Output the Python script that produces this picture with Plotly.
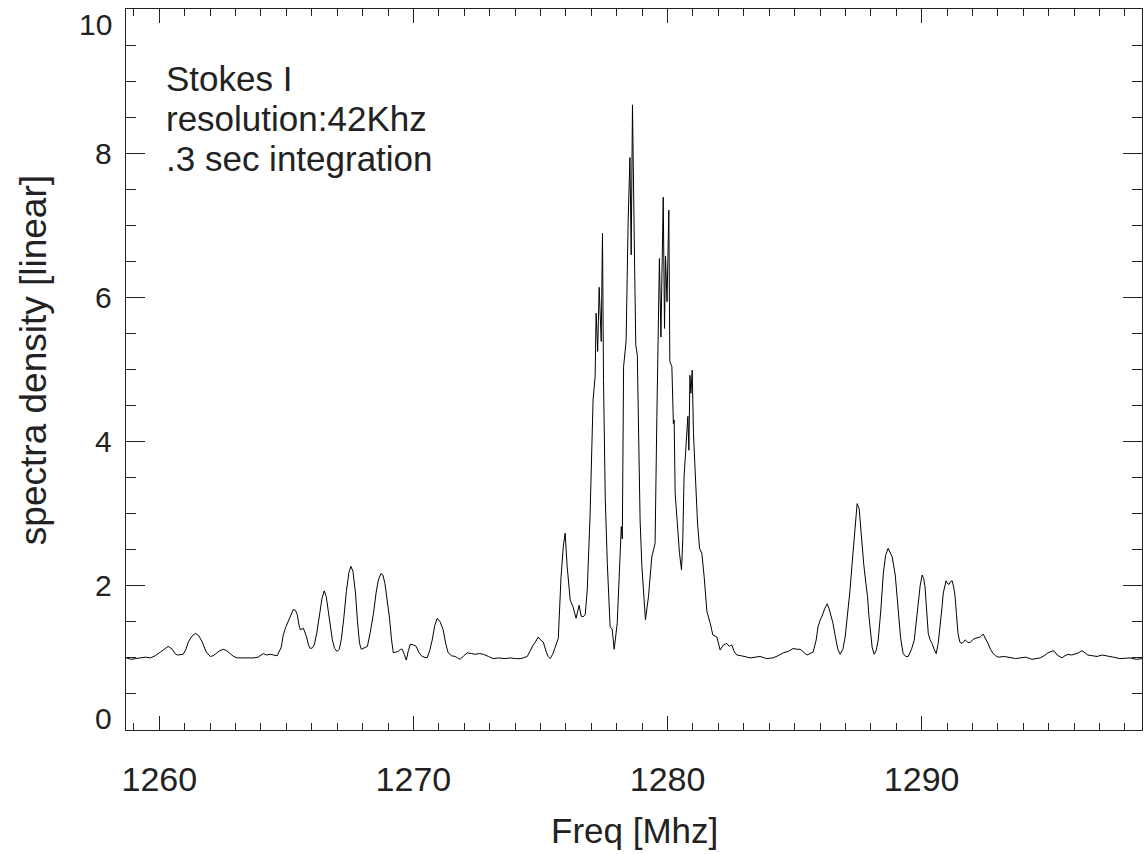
import plotly.graph_objects as go

# spectrum (Stokes I, 42 kHz resolution), (MHz, density)
low_band = [
    (1258.70, 1.00), (1258.90, 0.98), (1259.06, 0.99), (1259.25, 1.00), (1259.45, 1.01),
    (1259.65, 1.00), (1259.84, 1.03), (1260.04, 1.08), (1260.20, 1.12), (1260.35, 1.16),
    (1260.51, 1.12), (1260.62, 1.06), (1260.71, 1.04), (1260.85, 1.05), (1260.94, 1.05),
    (1261.05, 1.12), (1261.14, 1.22), (1261.28, 1.30), (1261.42, 1.34), (1261.55, 1.31),
    (1261.69, 1.22), (1261.85, 1.08), (1262.01, 1.02), (1262.12, 1.03), (1262.24, 1.06),
    (1262.38, 1.10), (1262.52, 1.12), (1262.65, 1.10), (1262.79, 1.06), (1262.92, 1.02),
    (1263.07, 1.00), (1263.30, 1.00), (1263.50, 0.99), (1263.70, 1.00), (1263.89, 1.01),
    (1264.09, 1.06), (1264.22, 1.04), (1264.37, 1.05), (1264.50, 1.04), (1264.64, 1.03),
    (1264.80, 1.15), (1264.88, 1.32), (1264.97, 1.42), (1265.07, 1.50), (1265.17, 1.60),
    (1265.27, 1.67), (1265.36, 1.66), (1265.43, 1.60), (1265.50, 1.45), (1265.55, 1.39),
    (1265.67, 1.41), (1265.79, 1.30), (1265.87, 1.18), (1265.94, 1.13), (1266.03, 1.14),
    (1266.10, 1.18), (1266.20, 1.35), (1266.30, 1.58), (1266.40, 1.82), (1266.49, 1.93),
    (1266.57, 1.85), (1266.65, 1.65), (1266.73, 1.42), (1266.81, 1.25), (1266.90, 1.13),
    (1267.00, 1.09), (1267.08, 1.12), (1267.16, 1.25), (1267.26, 1.55), (1267.36, 1.92),
    (1267.46, 2.18), (1267.54, 2.27), (1267.62, 2.20), (1267.72, 1.90), (1267.80, 1.50),
    (1267.88, 1.20), (1267.95, 1.12), (1268.07, 1.14), (1268.19, 1.16), (1268.30, 1.35),
    (1268.43, 1.62), (1268.53, 1.90), (1268.62, 2.08), (1268.72, 2.17), (1268.80, 2.15),
    (1268.88, 2.03), (1268.97, 1.80), (1269.06, 1.55), (1269.14, 1.25), (1269.21, 1.07),
    (1269.30, 1.08), (1269.41, 1.09), (1269.49, 1.12), (1269.56, 1.12), (1269.64, 1.05),
    (1269.72, 0.97), (1269.80, 1.10), (1269.88, 1.19), (1270.00, 1.18), (1270.11, 1.16),
    (1270.21, 1.08), (1270.31, 1.03), (1270.42, 1.01), (1270.54, 1.00), (1270.64, 1.10),
    (1270.74, 1.25), (1270.84, 1.45), (1270.94, 1.55), (1271.05, 1.50), (1271.17, 1.39),
    (1271.27, 1.20), (1271.37, 1.07), (1271.50, 1.03), (1271.64, 1.02), (1271.74, 1.00),
    (1271.84, 0.98), (1271.98, 1.03), (1272.12, 1.07), (1272.28, 1.06), (1272.43, 1.05),
    (1272.60, 1.06), (1272.75, 1.05), (1272.95, 1.02), (1273.14, 0.99), (1273.35, 1.00),
    (1273.61, 0.99), (1273.80, 1.00), (1274.01, 0.99), (1274.24, 0.99), (1274.36, 1.00),
    (1274.48, 1.02), (1274.60, 1.10), (1274.71, 1.18), (1274.80, 1.22), (1274.91, 1.29),
    (1275.00, 1.25), (1275.11, 1.22), (1275.23, 1.08), (1275.30, 1.02), (1275.38, 0.99),
    (1275.48, 1.05), (1275.58, 1.15), (1275.70, 1.27),
]
core = [
    (1275.81, 2.13), (1275.90, 2.55), (1275.97, 2.73), (1276.05, 2.27), (1276.17, 1.80),
    (1276.28, 1.71), (1276.40, 1.55), (1276.52, 1.73), (1276.60, 1.58), (1276.68, 1.57),
    (1276.76, 1.60), (1276.84, 1.94), (1276.95, 2.96), (1277.07, 4.58), (1277.15, 4.90),
    (1277.19, 5.78), (1277.25, 5.25), (1277.31, 6.14), (1277.39, 5.39), (1277.44, 6.89),
    (1277.48, 4.85), (1277.55, 3.20), (1277.63, 2.31), (1277.74, 1.43), (1277.82, 1.40),
    (1277.90, 1.12), (1278.02, 1.48), (1278.14, 2.59), (1278.18, 2.82), (1278.22, 2.65),
    (1278.27, 5.04), (1278.33, 5.25), (1278.37, 5.40), (1278.45, 7.07), (1278.52, 7.94),
    (1278.57, 6.59), (1278.62, 8.67), (1278.69, 6.80), (1278.75, 5.34), (1278.81, 5.20),
    (1278.86, 4.35), (1278.92, 2.91), (1278.99, 2.27), (1279.06, 1.90), (1279.13, 1.53),
    (1279.25, 1.85), (1279.38, 2.40), (1279.45, 2.50), (1279.51, 2.59), (1279.58, 4.35),
    (1279.63, 5.50), (1279.68, 6.54), (1279.74, 5.45), (1279.83, 7.39), (1279.88, 5.57),
    (1279.92, 6.57), (1279.98, 5.94), (1280.05, 7.21), (1280.09, 5.11), (1280.17, 5.04),
    (1280.23, 4.25), (1280.26, 4.30), (1280.30, 3.28), (1280.39, 2.77), (1280.47, 2.45),
    (1280.55, 2.22), (1280.60, 2.64), (1280.65, 3.51), (1280.73, 4.07), (1280.80, 4.35),
    (1280.84, 3.88), (1280.88, 4.92), (1280.92, 4.67), (1280.97, 4.99), (1281.02, 4.11),
    (1281.11, 3.37), (1281.18, 2.87), (1281.26, 2.52), (1281.35, 2.45), (1281.44, 2.13),
    (1281.55, 1.64), (1281.68, 1.48), (1281.78, 1.32), (1281.94, 1.29), (1282.07, 1.11),
    (1282.20, 1.18), (1282.33, 1.20), (1282.43, 1.16), (1282.53, 1.18), (1282.63, 1.08),
    (1282.73, 1.04),
]
high_band = [
    (1282.90, 1.03), (1283.05, 1.02), (1283.25, 1.00), (1283.45, 1.01), (1283.64, 1.02),
    (1283.90, 0.99), (1284.15, 1.00), (1284.35, 1.03), (1284.55, 1.07), (1284.75, 1.09),
    (1284.94, 1.13), (1285.10, 1.12), (1285.22, 1.12), (1285.35, 1.08), (1285.49, 1.04),
    (1285.60, 1.06), (1285.73, 1.08), (1285.85, 1.25), (1285.92, 1.43), (1286.00, 1.52),
    (1286.08, 1.58), (1286.18, 1.68), (1286.28, 1.75), (1286.36, 1.68), (1286.44, 1.57),
    (1286.51, 1.48), (1286.60, 1.30), (1286.70, 1.12), (1286.79, 1.05), (1286.90, 1.12),
    (1286.99, 1.29), (1287.08, 1.58), (1287.18, 1.94), (1287.25, 2.25), (1287.31, 2.54),
    (1287.39, 2.90), (1287.46, 3.14), (1287.54, 3.07), (1287.60, 2.80), (1287.66, 2.54),
    (1287.72, 2.30), (1287.79, 2.08), (1287.87, 1.85), (1287.92, 1.60), (1287.97, 1.39),
    (1288.05, 1.15), (1288.13, 1.05), (1288.21, 1.10), (1288.29, 1.25), (1288.39, 1.65),
    (1288.49, 2.17), (1288.58, 2.42), (1288.68, 2.52), (1288.76, 2.47), (1288.84, 2.40),
    (1288.96, 2.15), (1289.02, 1.90), (1289.08, 1.62), (1289.17, 1.28), (1289.27, 1.06),
    (1289.37, 1.02), (1289.47, 1.02), (1289.60, 1.12), (1289.71, 1.25), (1289.79, 1.50),
    (1289.86, 1.76), (1289.94, 2.00), (1290.02, 2.15), (1290.08, 2.10), (1290.13, 1.99),
    (1290.20, 1.65), (1290.26, 1.34), (1290.33, 1.25), (1290.41, 1.20), (1290.49, 1.12),
    (1290.57, 1.06), (1290.65, 1.20), (1290.73, 1.43), (1290.80, 1.70), (1290.85, 1.90),
    (1290.96, 2.07), (1291.02, 2.03), (1291.08, 2.02), (1291.14, 2.06), (1291.20, 2.07),
    (1291.26, 1.98), (1291.31, 1.87), (1291.37, 1.60), (1291.43, 1.34), (1291.50, 1.22),
    (1291.59, 1.20), (1291.71, 1.25), (1291.80, 1.22), (1291.90, 1.21), (1292.00, 1.25),
    (1292.10, 1.27), (1292.20, 1.28), (1292.30, 1.29), (1292.42, 1.33), (1292.52, 1.27),
    (1292.61, 1.20), (1292.71, 1.12), (1292.81, 1.06), (1292.91, 1.03), (1293.01, 1.01),
    (1293.25, 1.02), (1293.48, 1.01), (1293.70, 0.99), (1293.87, 1.00), (1294.10, 1.01),
    (1294.34, 0.98), (1294.50, 0.99), (1294.66, 1.00), (1294.82, 1.03), (1294.97, 1.07),
    (1295.17, 1.10), (1295.25, 1.08), (1295.33, 1.04), (1295.42, 1.02), (1295.52, 1.00),
    (1295.64, 1.03), (1295.76, 1.05), (1295.90, 1.04), (1296.03, 1.05), (1296.17, 1.07),
    (1296.31, 1.10), (1296.42, 1.07), (1296.54, 1.04), (1296.72, 1.03), (1296.90, 1.02),
    (1297.10, 1.04), (1297.29, 1.03), (1297.55, 1.01), (1297.80, 0.99), (1298.00, 1.00),
    (1298.20, 1.00), (1298.45, 0.98), (1298.67, 0.99),
]

x_range = [1258.69, 1298.67]
y_range = [0, 10]
y_tick_vals = [0, 2, 4, 6, 8, 10]
notes = ["Stokes I", "resolution:42Khz", ".3 sec integration"]

FONT = "Liberation Sans, Arial, Helvetica, sans-serif"
INK = "#222222"

freq = [p[0] for p in low_band + core + high_band]
density = [p[1] for p in low_band + core + high_band]

fig = go.Figure(go.Scatter(
    x=freq, y=density,
    mode="lines",
    line=dict(color="black", width=1),
    showlegend=False,
    hoverinfo="skip",
))

axis_common = dict(
    showline=True, linecolor=INK, linewidth=1,
    mirror="ticks", ticks="inside", tickcolor=INK, tickwidth=1,
    showgrid=False, zeroline=False,
)

fig.update_xaxes(
    range=x_range, tick0=1260, dtick=10, ticklen=14,
    minor=dict(dtick=1, ticklen=7, ticks="inside", tickcolor=INK),
    tickfont=dict(family=FONT, size=34, color=INK),
    ticklabelstandoff=19,
    **axis_common,
)
fig.update_yaxes(
    range=y_range, tick0=0, dtick=2, ticklen=19,
    minor=dict(dtick=0.5, ticklen=10, ticks="inside", tickcolor=INK),
    showticklabels=False,
    **axis_common,
)

# y tick labels (the end labels sit nudged inside the box, as in the reference)
end_shift = {0: 12, 10: -15}
for v in y_tick_vals:
    fig.add_annotation(
        x=0, xref="paper", y=v, yref="y",
        text=str(v), showarrow=False,
        xanchor="right", yanchor="middle",
        xshift=-12, yshift=end_shift.get(v, 0),
        font=dict(family=FONT, size=30, color=INK),
    )

for i, line in enumerate(notes):
    fig.add_annotation(
        x=0, xref="paper", y=1, yref="paper",
        text=line, showarrow=False,
        xanchor="left", yanchor="middle",
        xshift=38, yshift=-69 - 40 * i,
        font=dict(family=FONT, size=35, color=INK),
    )

fig.add_annotation(
    x=0.5, xref="paper", y=0, yref="paper",
    text="Freq [Mhz]", showarrow=False,
    xanchor="center", yanchor="middle", yshift=-100,
    font=dict(family=FONT, size=35, color=INK),
)
fig.add_annotation(
    x=0, xref="paper", y=0.513, yref="paper",
    text="spectra density [linear]", showarrow=False, textangle=-90,
    xanchor="center", yanchor="middle", xshift=-93,
    font=dict(family=FONT, size=37, color=INK),
)

fig.update_layout(
    width=1147, height=854,
    margin=dict(l=126, r=5, t=9, b=124),
    plot_bgcolor="white", paper_bgcolor="white",
)

# drop the browser's default 8px body margin so the figure fills the window
fig.write_html(
    "out.html",
    config={"displayModeBar": False},
    post_script="document.body.style.margin='0';",
)
